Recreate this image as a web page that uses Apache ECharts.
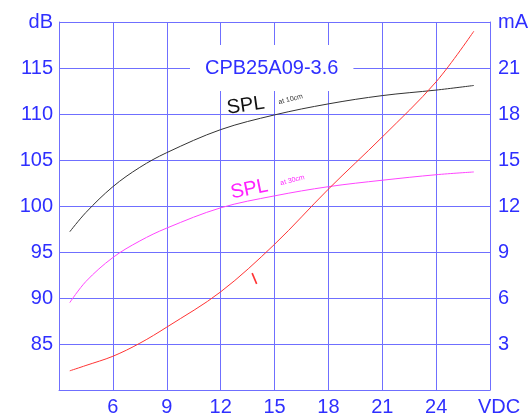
<!DOCTYPE html>
<html>
<head>
<meta charset="utf-8">
<script src="https://cdn.jsdelivr.net/npm/echarts@6/dist/echarts.min.js"></script>
<style>html,body{margin:0;padding:0;background:#fff}#c{width:531px;height:417px}</style>
</head>
<body>
<div id="c"></div>
<script>
const voltage = [3.6, 4.5, 6, 7.5, 9, 12, 15, 18, 21, 24, 26.1];
const splAt10cm = [97.2, 99.3, 102.1, 104.2, 105.8, 108.3, 109.9, 111.1, 112.0, 112.6, 113.1];
const splAt30cm = [89.5, 91.8, 94.4, 96.2, 97.6, 99.8, 101.1, 102.1, 102.8, 103.4, 103.7];
const currentMA = [1.25, 1.6, 2.2, 3.05, 4.1, 6.4, 9.5, 13.1, 16.5, 20.1, 23.4];
const titleText = 'CPB25A09-3.6';

const FONT = 'Liberation Sans, Arial, sans-serif';
const BLUE = '#2f2fff';
const GRID = '#6f6fff';

function pairs(xs, ys) { return xs.map((x, i) => [x, ys[i]]); }

const chart = echarts.init(document.getElementById('c'));
chart.setOption({
  animation: false,
  title: {
    text: titleText, left: 190, top: 45, padding: [13, 15],
    backgroundColor: '#fff',
    textStyle: { fontSize: 20, fontWeight: 'normal', color: BLUE, fontFamily: FONT }
  },
  grid: { left: 59, right: 38, top: 22, bottom: 26 },
  xAxis: {
    type: 'value', min: 3, max: 27, interval: 3,
    axisLine: { show: true, lineStyle: { color: GRID, width: 1 } },
    axisTick: { show: false },
    splitLine: { show: true, lineStyle: { color: GRID, width: 1 } },
    axisLabel: {
      showMinLabel: true, showMaxLabel: true, margin: 7,
      fontSize: 20, color: BLUE, fontFamily: FONT,
      formatter: v => v === 3 ? '' : (v === 27 ? '{u|VDC}' : String(v)),
      rich: { u: { fontSize: 20, color: BLUE, fontFamily: FONT, padding: [0, 0, 0, 18] } }
    }
  },
  yAxis: [{
    type: 'value', min: 80, max: 120, interval: 5,
    axisLine: { show: true, lineStyle: { color: GRID, width: 1 } },
    axisTick: { show: false },
    splitLine: { show: true, lineStyle: { color: GRID, width: 1 } },
    axisLabel: {
      showMinLabel: true, showMaxLabel: true, margin: 6,
      fontSize: 20, color: BLUE, fontFamily: FONT,
      formatter: v => v === 80 ? '' : (v === 120 ? 'dB' : String(v))
    }
  }, {
    type: 'value', min: 0, max: 24, interval: 3, position: 'right',
    axisLine: { show: true, lineStyle: { color: GRID, width: 1 } },
    axisTick: { show: false },
    splitLine: { show: false },
    axisLabel: {
      showMinLabel: true, showMaxLabel: true, margin: 8,
      fontSize: 20, color: BLUE, fontFamily: FONT,
      formatter: v => v === 0 ? '' : (v === 24 ? 'mA' : String(v))
    }
  }],
  series: [{
    name: 'SPL at 10cm', type: 'line', smooth: 0.35, symbol: 'none', yAxisIndex: 0,
    lineStyle: { color: '#333', width: 1 }, data: pairs(voltage, splAt10cm)
  }, {
    name: 'SPL at 30cm', type: 'line', smooth: 0.35, symbol: 'none', yAxisIndex: 0,
    lineStyle: { color: '#ff44ff', width: 1 }, data: pairs(voltage, splAt30cm)
  }, {
    name: 'I', type: 'line', smooth: 0.35, symbol: 'none', yAxisIndex: 1,
    lineStyle: { color: '#ff3333', width: 1 }, data: pairs(voltage, currentMA)
  }]
});

function px(v, y, axis) {
  return chart.convertToPixel(axis === 1 ? { xAxisIndex: 0, yAxisIndex: 1 } : { xAxisIndex: 0, yAxisIndex: 0 }, [v, y]);
}
const annotations = [
  { text: 'SPL', at: [13.4, 110.9, 0], size: 20, color: '#111', rot: 0.14 },
  { text: 'at 10cm', at: [15.9, 111.6, 0], size: 7, color: '#333', rot: 0.25 },
  { text: 'SPL', at: [13.6, 101.8, 0], size: 20, color: '#ff22ff', rot: 0.2 },
  { text: 'at 30cm', at: [16.0, 102.8, 0], size: 7, color: '#ff22ff', rot: 0.25 },
  { text: 'I', at: [13.9, 7.2, 1], size: 17, color: '#ff3333', rot: 0.4 }
];
chart.setOption({
  graphic: annotations.map(a => {
    const p = px(a.at[0], a.at[1], a.at[2]);
    return {
      type: 'text', x: p[0], y: p[1], rotation: a.rot, z: 10,
      style: { text: a.text, fill: a.color, font: a.size + 'px ' + FONT, align: 'center', verticalAlign: 'middle' }
    };
  })
});
</script>
</body>
</html>
